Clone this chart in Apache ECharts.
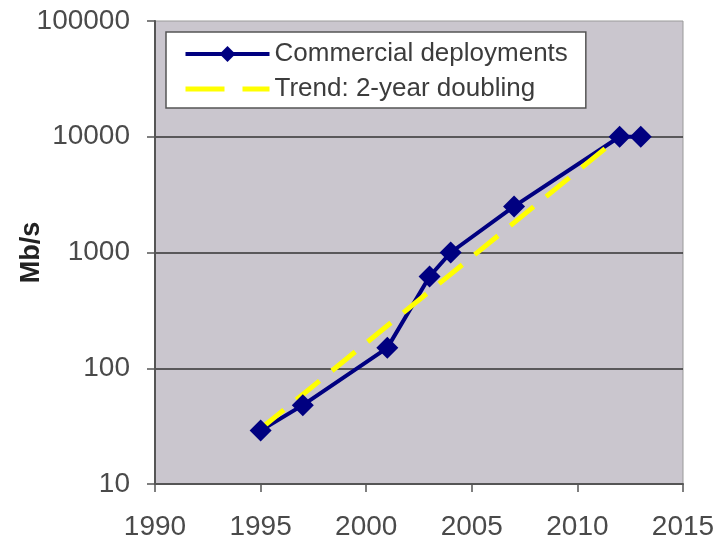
<!DOCTYPE html>
<html>
<head>
<meta charset="utf-8">
<script src="https://cdn.jsdelivr.net/npm/echarts@6/dist/echarts.min.js"></script>
<style>
  html, body { margin: 0; padding: 0; background: #ffffff; }
  #chart { width: 718px; height: 540px; }
</style>
</head>
<body>
<div id="chart"></div>
<script>
// Commercial deployment speeds (Mb/s) by year
const years = [1995, 1997, 2001, 2003, 2004, 2007, 2012, 2013];
const speeds = [29, 48, 150, 620, 1000, 2500, 10000, 10000];

// Trend line: 2-year doubling, drawn between its two end points
const trendYears = [1995, 2012];
const trendValues = [30, 10000];

// Axis tick labels
const xTickLabels = ['1990', '1995', '2000', '2005', '2010', '2015'];
const yTickLabels = ['10', '100', '1000', '10000', '100000'];

const seriesName = 'Commercial deployments';
const trendName = 'Trend: 2-year doubling';

const deployPoints = years.map((y, i) => [y, speeds[i]]);
const trendPoints = trendYears.map((y, i) => [y, trendValues[i]]);

const font = '"Liberation Sans", Arial, sans-serif';
const navy = '#000080';
const yellow = '#ffff00';

const chart = echarts.init(document.getElementById('chart'), null, { renderer: 'canvas' });

chart.setOption({
  animation: false,
  backgroundColor: '#ffffff',
  grid: {
    left: 155, right: 35, top: 21, bottom: 56,
    outerBoundsMode: 'none',
    containLabel: false,
    show: true,
    backgroundColor: '#cac6ce',
    borderColor: '#9a9a9a',
    borderWidth: 1
  },
  legend: {
    data: [
      { name: seriesName },
      { name: trendName, lineStyle: { type: [39, 18], width: 5 } }
    ],
    orient: 'vertical',
    left: 166, top: 32,
    padding: [9, 18, 6, 17],
    itemWidth: 84,
    itemHeight: 20,
    itemGap: 9,
    backgroundColor: '#ffffff',
    borderColor: '#555555',
    borderWidth: 1.5,
    borderRadius: 0,
    lineStyle: { width: 'inherit' },
    textStyle: { fontFamily: font, fontSize: 26, color: '#3c3c3c' }
  },
  xAxis: {
    type: 'value',
    min: 1990, max: 2015, interval: 5,
    axisLine: { show: true, onZero: false, lineStyle: { color: '#555555', width: 2 } },
    axisTick: { show: true, length: 8, lineStyle: { color: '#555555', width: 1.5 } },
    splitLine: { show: false },
    axisLabel: {
      margin: 29,
      fontFamily: font, fontSize: 28, color: '#4a4a4a',
      formatter: v => xTickLabels[Math.round((v - 1990) / 5)] || ''
    }
  },
  yAxis: {
    type: 'log',
    logBase: 10,
    min: 10, max: 100000,
    name: 'Mb/s',
    nameLocation: 'middle',
    nameGap: 110,
    nameMoveOverlap: false,
    nameTextStyle: { fontFamily: font, fontSize: 27, fontWeight: 'bold', color: '#222222' },
    axisLine: { show: true, lineStyle: { color: '#555555', width: 2 } },
    axisTick: { show: true, length: 8, lineStyle: { color: '#555555', width: 1.5 } },
    splitLine: {
      show: true,
      lineStyle: { color: ['#333333', '#333333', '#333333', '#333333', 'rgba(0,0,0,0)'], width: 1.5 }
    },
    axisLabel: {
      margin: 25,
      fontFamily: font, fontSize: 28, color: '#4a4a4a',
      formatter: v => yTickLabels[Math.round(Math.log10(v)) - 1] || ''
    }
  },
  series: [
    {
      name: seriesName,
      type: 'line',
      data: deployPoints,
      z: 2,
      symbol: 'diamond',
      symbolSize: 22,
      showSymbol: false,
      itemStyle: { color: navy },
      lineStyle: { color: navy, width: 4 }
    },
    {
      name: trendName,
      type: 'line',
      data: trendPoints,
      z: 3,
      symbol: 'circle',
      showSymbol: false,
      itemStyle: { color: 'rgba(0,0,0,0)', borderWidth: 0 },
      lineStyle: { color: yellow, width: 5, type: [30, 16] }
    },
    {
      name: 'markers',
      type: 'scatter',
      data: deployPoints,
      z: 4,
      symbol: 'diamond',
      symbolSize: 22,
      itemStyle: { color: navy, opacity: 1 }
    }
  ]
});
</script>
</body>
</html>
